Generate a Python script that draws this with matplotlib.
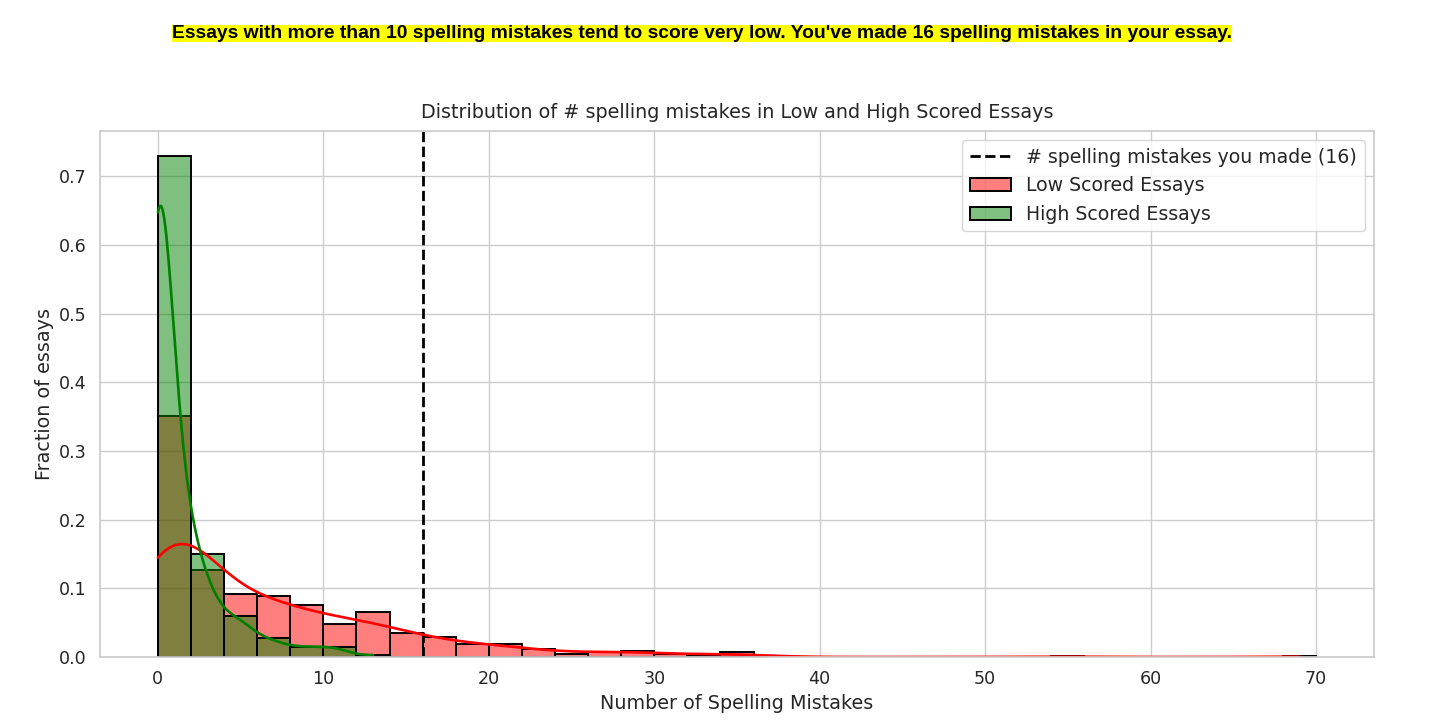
import numpy as np
import matplotlib
matplotlib.use("Agg")
import matplotlib.pyplot as plt
import seaborn as sns

# number of essays with 0, 1, 2, ... spelling mistakes
low_counts = [103, 124, 45, 37, 30, 29, 29, 28, 25, 24,
              16, 15, 22, 20, 12, 11, 10, 9, 6, 6,
              6, 6, 5, 3, 2, 1, 2, 3, 3, 3,
              2, 1, 1, 0, 3, 2, 1, 0, 0, 0,
              0, 0, 0, 0, 0, 0, 0, 0, 0, 0,
              0, 0, 0, 0, 1, 0, 0, 0, 0, 0,
              0, 0, 0, 0, 0, 0, 0, 0, 0, 1]
high_counts = [229, 62, 39, 21, 12, 12, 6, 5, 3, 3, 3, 3, 0, 1]
your_mistakes = 16
threshold = 10

low = np.repeat(np.arange(len(low_counts)), low_counts)
high = np.repeat(np.arange(len(high_counts)), high_counts)

sns.set_theme(style="whitegrid", font_scale=1.15)

fig = plt.figure(figsize=(14.44, 7.26), dpi=100)
ax = fig.add_axes([100 / 1444, 1 - 657 / 726, 1274 / 1444, 526 / 726])

vline = ax.axvline(your_mistakes, color="black", linestyle="--", linewidth=2)
sns.histplot(low, binwidth=2, binrange=(0, 70), stat="probability", kde=True,
             color="red", edgecolor="black", linewidth=1.4, ax=ax,
             kde_kws={"bw_adjust": 1.08}, line_kws={"linewidth": 1.9})
sns.histplot(high, binwidth=2, binrange=(0, 14), stat="probability", kde=True,
             color="green", edgecolor="black", linewidth=1.4, ax=ax,
             kde_kws={"bw_adjust": 1.19}, line_kws={"linewidth": 1.9})

ax.set_title("Distribution of # spelling mistakes in Low and High Scored Essays", pad=9.5)
ax.set_xlabel("Number of Spelling Mistakes")
ax.set_ylabel("Fraction of essays")
ax.legend(handles=[vline, ax.containers[0], ax.containers[1]],
          labels=[f"# spelling mistakes you made ({your_mistakes})",
                  "Low Scored Essays", "High Scored Essays"],
          loc="upper right", fontsize=13.6, handlelength=2.2)

fig.text(172 / 1444, 1 - 33 / 726,
         f"Essays with more than {threshold} spelling mistakes tend to score very low. "
         f"You've made {your_mistakes} spelling mistakes in your essay.",
         fontfamily="Liberation Sans", fontweight="bold", fontsize=13.9,
         color="black", ha="left", va="center",
         bbox=dict(facecolor="yellow", edgecolor="none", pad=0))

fig.savefig("out.png", dpi=100)
